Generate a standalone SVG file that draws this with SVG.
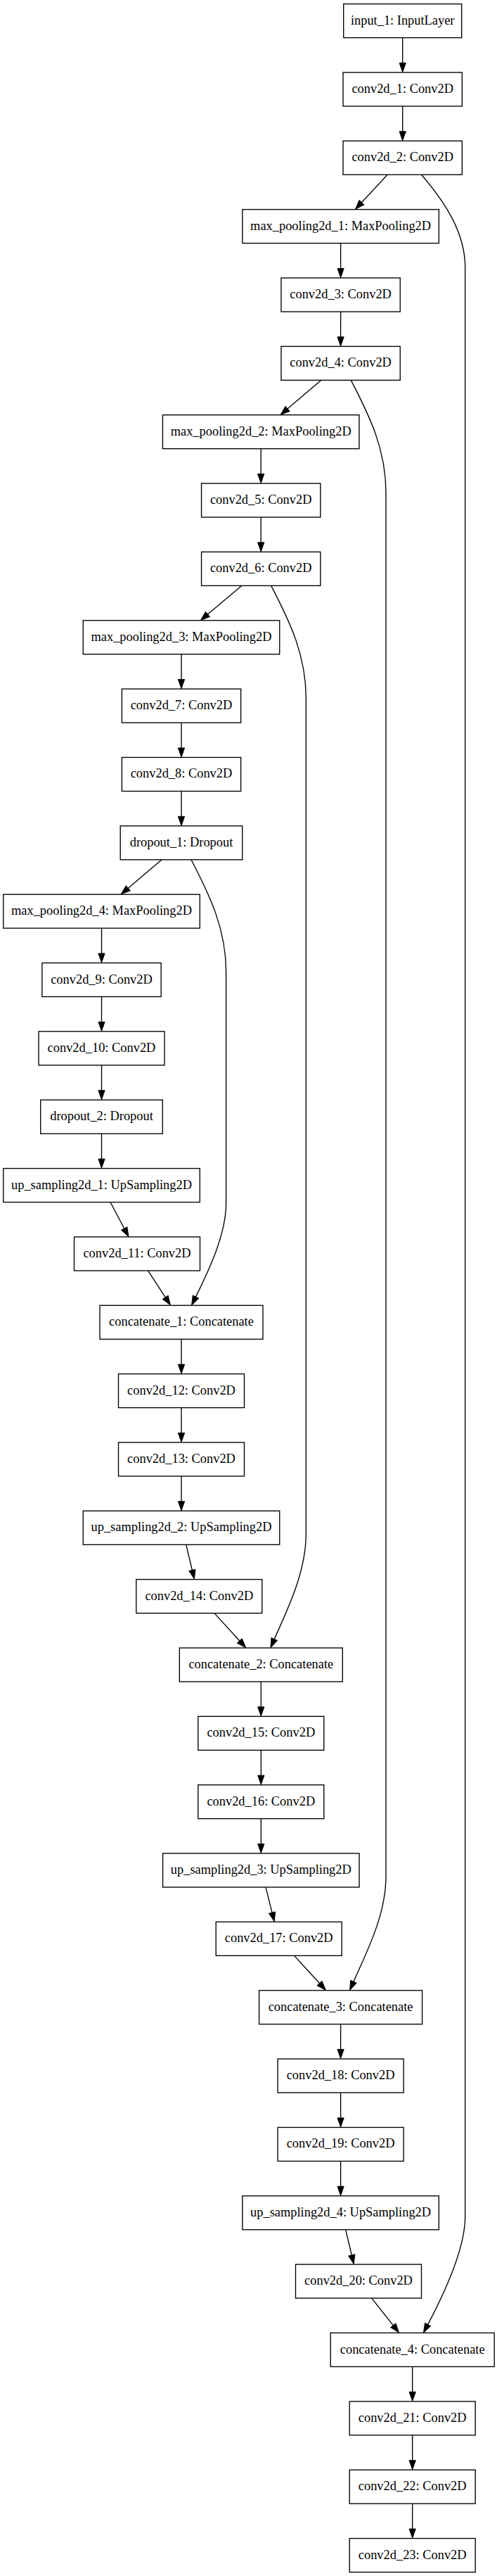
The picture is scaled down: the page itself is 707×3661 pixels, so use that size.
<svg xmlns="http://www.w3.org/2000/svg" width="707" height="3661" viewBox="0 0 707 3661">
<style>
.node rect{fill:#fff;stroke:#000;stroke-width:1.35}
.node text{font-family:"Liberation Serif","Times New Roman",serif;font-size:18.4px;text-anchor:middle;fill:#000}
.edge{fill:none;stroke:#000;stroke-width:1.35;marker-end:url(#arr)}
</style>
<defs>
<marker id="arr" markerUnits="userSpaceOnUse" markerWidth="16" markerHeight="12" refX="0" refY="4.6" orient="auto" overflow="visible">
<path d="M0,0 L13,4.6 L0,9.2 Z" fill="#000" stroke="#000" stroke-width="1"/>
</marker>
</defs>
<rect x="0" y="0" width="707" height="3661" fill="#fff"/>
<g id="connectors">
<path class="edge" d="M572.7,53.6 L572.7,89.45"/>
<path class="edge" d="M572.7,150.95 L572.7,186.8"/>
<path class="edge" d="M484.6,345.65 L484.6,381.5"/>
<path class="edge" d="M484.6,443 L484.6,478.85"/>
<path class="edge" d="M371.2,637.7 L371.2,673.55"/>
<path class="edge" d="M371.2,735.05 L371.2,770.9"/>
<path class="edge" d="M258,929.75 L258,965.6"/>
<path class="edge" d="M258,1027.1 L258,1062.95"/>
<path class="edge" d="M258,1124.45 L258,1160.3"/>
<path class="edge" d="M144.5,1319.15 L144.5,1355"/>
<path class="edge" d="M144.5,1416.5 L144.5,1452.35"/>
<path class="edge" d="M144.5,1513.85 L144.5,1549.7"/>
<path class="edge" d="M144.5,1611.2 L144.5,1647.05"/>
<path class="edge" d="M258,1903.25 L258,1939.1"/>
<path class="edge" d="M258,2000.6 L258,2036.45"/>
<path class="edge" d="M258,2097.95 L258,2133.8"/>
<path class="edge" d="M371.3,2390 L371.3,2425.85"/>
<path class="edge" d="M371.3,2487.35 L371.3,2523.2"/>
<path class="edge" d="M371.3,2584.7 L371.3,2620.55"/>
<path class="edge" d="M484.6,2876.75 L484.6,2912.6"/>
<path class="edge" d="M484.6,2974.1 L484.6,3009.95"/>
<path class="edge" d="M484.6,3071.45 L484.6,3107.3"/>
<path class="edge" d="M586.7,3363.5 L586.7,3399.35"/>
<path class="edge" d="M586.7,3460.85 L586.7,3496.7"/>
<path class="edge" d="M586.7,3558.2 L586.7,3594.05"/>
<path class="edge" d="M551.2,248.3 L514.4,287.8"/>
<path class="edge" d="M456.9,540.35 L409,581"/>
<path class="edge" d="M343.7,832.4 L295.4,873.1"/>
<path class="edge" d="M230,1221.8 L182.2,1262.4"/>
<path class="edge" d="M157,1708.55 L176.8,1746"/>
<path class="edge" d="M210.6,1805.9 L235.3,1843.9"/>
<path class="edge" d="M264.8,2195.3 L273.4,2231.5"/>
<path class="edge" d="M304.9,2292.65 L340.9,2332"/>
<path class="edge" d="M378,2682.05 L387.1,2718.3"/>
<path class="edge" d="M418.6,2779.4 L454.6,2818.8"/>
<path class="edge" d="M491.7,3168.8 L500.3,3205"/>
<path class="edge" d="M528.6,3266.15 L559.4,3304.9"/>
<path class="edge" d="M599.5,248.3 C632.2,286.2 661.7,330 661.7,380 L661.7,3150 C661.7,3195 632,3259.4 608.6,3303.6"/>
<path class="edge" d="M499.3,540.35 C527,593.5 549,640 549,700 L549,2667 C549,2722 521,2775.2 502.9,2816.4"/>
<path class="edge" d="M385.7,832.4 C413.4,885.6 435.3,932 435.3,992 L435.3,2180 C435.3,2235 408.3,2288.5 390.2,2329.65"/>
<path class="edge" d="M272,1221.8 C299.7,1275 321.6,1321.5 321.6,1381.5 L321.6,1710 C321.6,1755 296.2,1807.3 278.4,1843.15"/>
</g>
<g id="input_1" class="node"><rect x="488.7" y="5.6" width="168" height="48"/><text x="572.7" y="34.6">input_1: InputLayer</text></g>
<g id="conv2d_1" class="node"><rect x="488.05" y="102.95" width="169.3" height="48"/><text x="572.7" y="131.95">conv2d_1: Conv2D</text></g>
<g id="conv2d_2" class="node"><rect x="488.05" y="200.3" width="169.3" height="48"/><text x="572.7" y="229.3">conv2d_2: Conv2D</text></g>
<g id="max_pooling2d_1" class="node"><rect x="344.85" y="297.65" width="279.5" height="48"/><text x="484.6" y="326.65">max_pooling2d_1: MaxPooling2D</text></g>
<g id="conv2d_3" class="node"><rect x="399.95" y="395" width="169.3" height="48"/><text x="484.6" y="424">conv2d_3: Conv2D</text></g>
<g id="conv2d_4" class="node"><rect x="399.95" y="492.35" width="169.3" height="48"/><text x="484.6" y="521.35">conv2d_4: Conv2D</text></g>
<g id="max_pooling2d_2" class="node"><rect x="231.45" y="589.7" width="279.5" height="48"/><text x="371.2" y="618.7">max_pooling2d_2: MaxPooling2D</text></g>
<g id="conv2d_5" class="node"><rect x="286.55" y="687.05" width="169.3" height="48"/><text x="371.2" y="716.05">conv2d_5: Conv2D</text></g>
<g id="conv2d_6" class="node"><rect x="286.55" y="784.4" width="169.3" height="48"/><text x="371.2" y="813.4">conv2d_6: Conv2D</text></g>
<g id="max_pooling2d_3" class="node"><rect x="118.25" y="881.75" width="279.5" height="48"/><text x="258" y="910.75">max_pooling2d_3: MaxPooling2D</text></g>
<g id="conv2d_7" class="node"><rect x="173.35" y="979.1" width="169.3" height="48"/><text x="258" y="1008.1">conv2d_7: Conv2D</text></g>
<g id="conv2d_8" class="node"><rect x="173.35" y="1076.45" width="169.3" height="48"/><text x="258" y="1105.45">conv2d_8: Conv2D</text></g>
<g id="dropout_1" class="node"><rect x="171.2" y="1173.8" width="173.6" height="48"/><text x="258" y="1202.8">dropout_1: Dropout</text></g>
<g id="max_pooling2d_4" class="node"><rect x="4.75" y="1271.15" width="279.5" height="48"/><text x="144.5" y="1300.15">max_pooling2d_4: MaxPooling2D</text></g>
<g id="conv2d_9" class="node"><rect x="59.85" y="1368.5" width="169.3" height="48"/><text x="144.5" y="1397.5">conv2d_9: Conv2D</text></g>
<g id="conv2d_10" class="node"><rect x="55" y="1465.85" width="179" height="48"/><text x="144.5" y="1494.85">conv2d_10: Conv2D</text></g>
<g id="dropout_2" class="node"><rect x="57.7" y="1563.2" width="173.6" height="48"/><text x="144.5" y="1592.2">dropout_2: Dropout</text></g>
<g id="up_sampling2d_1" class="node"><rect x="4.75" y="1660.55" width="279.5" height="48"/><text x="144.5" y="1689.55">up_sampling2d_1: UpSampling2D</text></g>
<g id="conv2d_11" class="node"><rect x="105.5" y="1757.9" width="179" height="48"/><text x="195" y="1786.9">conv2d_11: Conv2D</text></g>
<g id="concatenate_1" class="node"><rect x="142" y="1855.25" width="232" height="48"/><text x="258" y="1884.25">concatenate_1: Concatenate</text></g>
<g id="conv2d_12" class="node"><rect x="168.5" y="1952.6" width="179" height="48"/><text x="258" y="1981.6">conv2d_12: Conv2D</text></g>
<g id="conv2d_13" class="node"><rect x="168.5" y="2049.95" width="179" height="48"/><text x="258" y="2078.95">conv2d_13: Conv2D</text></g>
<g id="up_sampling2d_2" class="node"><rect x="118.25" y="2147.3" width="279.5" height="48"/><text x="258" y="2176.3">up_sampling2d_2: UpSampling2D</text></g>
<g id="conv2d_14" class="node"><rect x="193.8" y="2244.65" width="179" height="48"/><text x="283.3" y="2273.65">conv2d_14: Conv2D</text></g>
<g id="concatenate_2" class="node"><rect x="255.3" y="2342" width="232" height="48"/><text x="371.3" y="2371">concatenate_2: Concatenate</text></g>
<g id="conv2d_15" class="node"><rect x="281.8" y="2439.35" width="179" height="48"/><text x="371.3" y="2468.35">conv2d_15: Conv2D</text></g>
<g id="conv2d_16" class="node"><rect x="281.8" y="2536.7" width="179" height="48"/><text x="371.3" y="2565.7">conv2d_16: Conv2D</text></g>
<g id="up_sampling2d_3" class="node"><rect x="231.55" y="2634.05" width="279.5" height="48"/><text x="371.3" y="2663.05">up_sampling2d_3: UpSampling2D</text></g>
<g id="conv2d_17" class="node"><rect x="307.2" y="2731.4" width="179" height="48"/><text x="396.7" y="2760.4">conv2d_17: Conv2D</text></g>
<g id="concatenate_3" class="node"><rect x="368.6" y="2828.75" width="232" height="48"/><text x="484.6" y="2857.75">concatenate_3: Concatenate</text></g>
<g id="conv2d_18" class="node"><rect x="395.1" y="2926.1" width="179" height="48"/><text x="484.6" y="2955.1">conv2d_18: Conv2D</text></g>
<g id="conv2d_19" class="node"><rect x="395.1" y="3023.45" width="179" height="48"/><text x="484.6" y="3052.45">conv2d_19: Conv2D</text></g>
<g id="up_sampling2d_4" class="node"><rect x="344.85" y="3120.8" width="279.5" height="48"/><text x="484.6" y="3149.8">up_sampling2d_4: UpSampling2D</text></g>
<g id="conv2d_20" class="node"><rect x="420.5" y="3218.15" width="179" height="48"/><text x="510" y="3247.15">conv2d_20: Conv2D</text></g>
<g id="concatenate_4" class="node"><rect x="470.2" y="3315.5" width="233" height="48"/><text x="586.7" y="3344.5">concatenate_4: Concatenate</text></g>
<g id="conv2d_21" class="node"><rect x="497.2" y="3412.85" width="179" height="48"/><text x="586.7" y="3441.85">conv2d_21: Conv2D</text></g>
<g id="conv2d_22" class="node"><rect x="497.2" y="3510.2" width="179" height="48"/><text x="586.7" y="3539.2">conv2d_22: Conv2D</text></g>
<g id="conv2d_23" class="node"><rect x="497.2" y="3607.55" width="179" height="48"/><text x="586.7" y="3636.55">conv2d_23: Conv2D</text></g>
</svg>
